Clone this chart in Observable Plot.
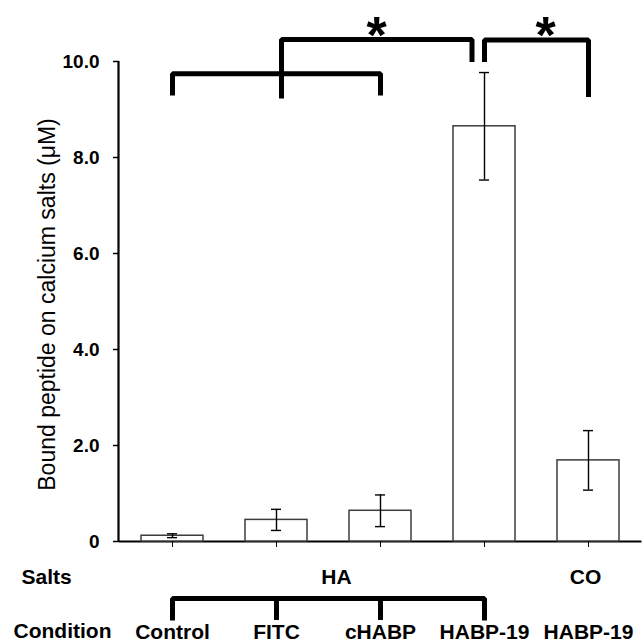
<!DOCTYPE html>
<html><head><meta charset="utf-8">
<script src="https://cdn.jsdelivr.net/npm/d3@7"></script>
<script src="https://cdn.jsdelivr.net/npm/@observablehq/plot@0.6"></script>
<style>body{margin:0;background:#fff}</style>
</head><body><div id="chart"></div>
<script>
const conditions = ["Control", "FITC", "cHABP", "HABP-19", "HABP-19"];
const salts = ["HA", "HA", "HA", "HA", "CO"];
const means = [0.12, 0.45, 0.64, 8.65, 1.69];
const errors = [0.04, 0.22, 0.33, 1.12, 0.62];
const yTicks = [0, 2, 4, 6, 8, 10];
const yTitle = "Bound peptide on calcium salts (\u03bcM)";

const rows = conditions.map((c, i) => ({i, condition: c, salt: salts[i], mean: means[i], err: errors[i]}));

const font = "'Liberation Sans', Arial, sans-serif";
const bk = {stroke: "black", strokeWidth: 5, strokeLinejoin: "miter", strokeLinecap: "butt"};

const yAxisLine = (index, scales, values, dims) =>
  d3.create("svg:line")
    .attr("x1", dims.marginLeft - 0.5).attr("x2", dims.marginLeft - 0.5)
    .attr("y1", scales.y(0) + 1).attr("y2", scales.y(10))
    .attr("stroke", "black").attr("stroke-width", 2.2).node();

const chart = Plot.plot({
  width: 644,
  height: 643,
  marginLeft: 119,
  marginRight: 2.5,
  marginTop: 61,
  marginBottom: 102,
  style: {fontFamily: font, background: "white", color: "black"},
  x: {type: "band", domain: d3.range(conditions.length), paddingInner: 0.4, paddingOuter: 0.2, axis: null},
  y: {domain: [0, 10], axis: null},
  marks: [
    Plot.ruleY([0], {stroke: "black", strokeWidth: 2.2, dx: 0}),
    Plot.barY(rows, {x: "i", y: "mean", fill: "white", stroke: "#3c3c3c", strokeWidth: 1.5}),
    Plot.ruleX(rows, {x: "i", y1: d => d.mean - d.err, y2: d => d.mean + d.err, stroke: "black", strokeWidth: 1.4}),
    Plot.tickY(rows, {x: "i", y: d => d.mean - d.err, stroke: "black", strokeWidth: 1.4, insetLeft: 26, insetRight: 26}),
    Plot.tickY(rows, {x: "i", y: d => d.mean + d.err, stroke: "black", strokeWidth: 1.4, insetLeft: 26, insetRight: 26}),
    yAxisLine,
    Plot.axisY({ticks: yTicks, tickSize: 6, tickPadding: 14, tickFormat: d => d === 0 ? "0" : d.toFixed(1),
      fontSize: 19, fontWeight: "bold", label: null, strokeWidth: 1.5}),
    Plot.axisX({tickSize: 6, tickPadding: 77, tickFormat: i => conditions[i], fontSize: 21, fontWeight: "bold", label: null}),
    Plot.text([yTitle], {frameAnchor: "left", rotate: -90, dx: -72, dy: 3, fontSize: 23, textAnchor: "middle", lineAnchor: "middle"}),
    // significance brackets
    Plot.line([[0, 9.29], [0, 9.745], [2, 9.745], [2, 9.29]], {x: "0", y: "1", ...bk}),
    Plot.line([[1, 9.23], [1, 10.46], [2, 10.46]], {x: "0", y: "1", dx: 5, ...bk}),
    Plot.line([[2, 10.46], [3, 10.46], [3, 9.99]], {x: "0", y: "1", dx: -12.5, ...bk}),
    Plot.line([[3, 9.99], [3, 10.45], [4, 10.45], [4, 9.26]], {x: "0", y: "1", ...bk}),
    Plot.text(["*"], {x: [2], y: [10.78], dx: -4, dy: 12, fontSize: 52, fontWeight: "bold", lineAnchor: "middle"}),
    Plot.text(["*"], {x: [4], y: [10.78], dx: -43, dy: 12, fontSize: 52, fontWeight: "bold", lineAnchor: "middle"}),
    // salts row
    Plot.text(["Salts"], {frameAnchor: "left", y: [-0.75], dx: -98, textAnchor: "start", fontSize: 21, fontWeight: "bold", lineAnchor: "middle"}),
    Plot.text(["HA"], {x: [2], y: [-0.75], dx: -44, fontSize: 21, fontWeight: "bold", lineAnchor: "middle"}),
    Plot.text(["CO"], {x: [4], y: [-0.75], dx: -3, fontSize: 21, fontWeight: "bold", lineAnchor: "middle"}),
    // condition bracket
    Plot.line([[0, -1.646], [0, -1.19], [3, -1.19], [3, -1.646]], {x: "0", y: "1", ...bk}),
    Plot.ruleX([1, 2], {x: d => d, y1: -1.19, y2: -1.646, stroke: "black", strokeWidth: 5}),
    Plot.text(["Condition"], {frameAnchor: "left", y: [-1.88], dx: -106, textAnchor: "start", fontSize: 21, fontWeight: "bold", lineAnchor: "middle"})
  ]
});
document.getElementById("chart").appendChild(chart);
</script>
</body></html>
